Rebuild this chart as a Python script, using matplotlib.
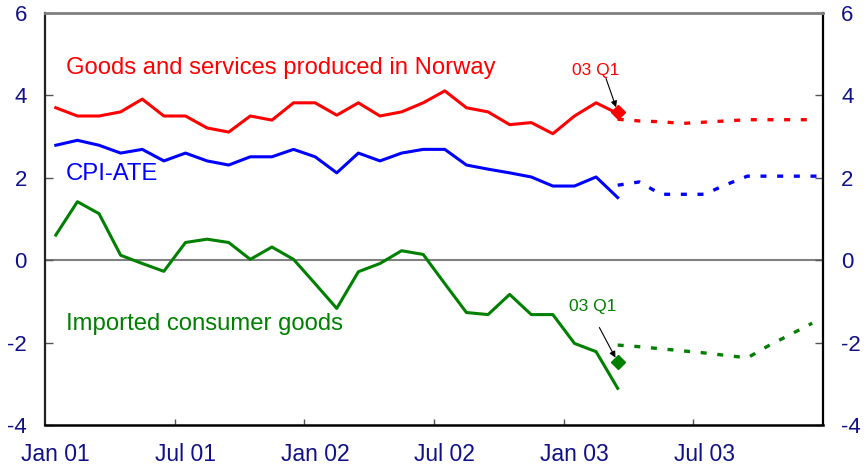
import matplotlib
matplotlib.use("Agg")
import matplotlib.pyplot as plt
import numpy as np

plt.rcParams['font.family'] = ['Liberation Sans', 'DejaVu Sans']

# Monthly observations, Jan 2001 - Mar 2003 (index 0 = Jan 01)
goods_norway = [3.70, 3.50, 3.50, 3.60, 3.91, 3.50, 3.50, 3.21, 3.11, 3.50, 3.40, 3.82,
                3.82, 3.52, 3.82, 3.50, 3.60, 3.82, 4.11, 3.70, 3.60, 3.29, 3.34, 3.07,
                3.50, 3.82, 3.56]
cpi_ate = [2.79, 2.91, 2.79, 2.60, 2.69, 2.41, 2.60, 2.41, 2.31, 2.51, 2.51, 2.69,
           2.51, 2.12, 2.60, 2.41, 2.60, 2.69, 2.69, 2.31, 2.21, 2.12, 2.02, 1.80,
           1.80, 2.02, 1.52]
imported = [0.61, 1.42, 1.13, 0.12, -0.08, -0.27, 0.43, 0.51, 0.43, 0.02, 0.32, 0.02,
            -0.57, -1.17, -0.28, -0.08, 0.23, 0.14, -0.57, -1.27, -1.32, -0.83, -1.32, -1.32,
            -2.02, -2.22, -3.11]

# Projections from Mar 2003 (index 26)
goods_norway_proj = [3.42, 3.38, 3.36, 3.32, 3.35, 3.38, 3.41, 3.41, 3.41, 3.41]
cpi_ate_proj = [1.82, 1.90, 1.60, 1.60, 1.60, 1.83, 2.04, 2.04, 2.04, 2.04, 2.04]
imported_proj = [-2.06, -2.10, -2.15, -2.20, -2.25, -2.31, -2.37, -2.07, -1.80, -1.53]

# 03 Q1 points
goods_q1 = 3.60
imported_q1 = -2.47

x_tick_labels = ['Jan 01', 'Jul 01', 'Jan 02', 'Jul 02', 'Jan 03', 'Jul 03']
y_ticks = [-4, -2, 0, 2, 4, 6]

RED = '#ff0000'
BLUE = '#0000ff'
GREEN = '#008000'
NAVY = '#10108a'

fig = plt.figure(figsize=(8.68, 4.70), dpi=100)
ax = fig.add_axes([45 / 868, 45 / 470, 778 / 868, 412 / 470])

def mid(n, start=0):
    return np.arange(start, start + n) + 0.5

ax.axhline(0, color='#808080', lw=1.5, zorder=1)

lw = 2.2
dash = (0, (1.8, 3.2))
ax.plot(mid(len(goods_norway)), goods_norway, color=RED, lw=lw, zorder=3)
ax.plot(mid(len(cpi_ate)), cpi_ate, color=BLUE, lw=lw, zorder=3)
ax.plot(mid(len(imported)), imported, color=GREEN, lw=lw, zorder=3)

ax.plot(mid(len(goods_norway_proj), 26), goods_norway_proj, color=RED, lw=2.4, ls=dash, zorder=3)
ax.plot(mid(len(cpi_ate_proj), 26), cpi_ate_proj, color=BLUE, lw=2.4, ls=dash, zorder=3)
ax.plot(mid(len(imported_proj), 26), imported_proj, color=GREEN, lw=2.4, ls=dash, zorder=3)

xq = 26.5
ax.plot([xq], [goods_q1], marker='D', ms=7, color=RED, ls='none', zorder=4)
ax.plot([xq], [imported_q1], marker='D', ms=7, color=GREEN, ls='none', zorder=4)

arrow = dict(arrowstyle='-|>', color='black', lw=0.8, mutation_scale=9, shrinkA=0, shrinkB=3.5)
ax.annotate('', xy=(xq, goods_q1), xytext=(-8.4, 24), textcoords='offset points', arrowprops=arrow)
ax.annotate('03 Q1', xy=(xq, goods_q1), xytext=(-16, 30), textcoords='offset points',
            ha='center', va='center', color=RED, fontsize=12.5)
ax.annotate('', xy=(xq, imported_q1), xytext=(-13.2, 24.8), textcoords='offset points', arrowprops=arrow)
ax.annotate('03 Q1', xy=(xq, imported_q1), xytext=(-18.2, 40), textcoords='offset points',
            ha='center', va='center', color=GREEN, fontsize=12.5)

# series labels (pixel positions converted to axes fraction)
def axfrac(px, py):
    return ((px - 45) / 778, (425 - py) / 412)

for s, c, (px, py) in [('Goods and services produced in Norway', RED, (66, 68)),
                       ('CPI-ATE', BLUE, (66, 174)),
                       ('Imported consumer goods', GREEN, (66, 324))]:
    fx, fy = axfrac(px, py)
    ax.text(fx, fy, s, transform=ax.transAxes, color=c, fontsize=17.2, va='center', ha='left')

ax.set_xlim(0, 36)
ax.set_ylim(-4, 6)

ax.set_xticks([6, 12, 18, 24, 30])
ax.set_xticklabels([])
ax.set_xticks(np.arange(0, 36, 6) + 0.5, x_tick_labels, minor=True)
ax.tick_params(axis='x', which='major', direction='in', length=4.5, width=1, color='#555555')
ax.tick_params(axis='x', which='minor', length=0, pad=13, labelsize=16.5, labelcolor=NAVY)

ax.set_yticks(y_ticks)
ax.set_yticklabels([str(v) for v in y_ticks])
ax.tick_params(axis='y', which='major', direction='in', length=5.5, width=1, color='#555555',
               left=True, right=True, labelleft=True, labelright=True,
               labelsize=16, labelcolor=NAVY, pad=13)

ax.spines['top'].set_color('#808080')
ax.spines['top'].set_linewidth(2)
ax.spines['left'].set_color('#222222')
ax.spines['left'].set_linewidth(1.6)
ax.spines['bottom'].set_color('black')
ax.spines['bottom'].set_linewidth(1.8)
ax.spines['right'].set_color('black')
ax.spines['right'].set_linewidth(1.6)

fig.savefig('out.png', dpi=100)
